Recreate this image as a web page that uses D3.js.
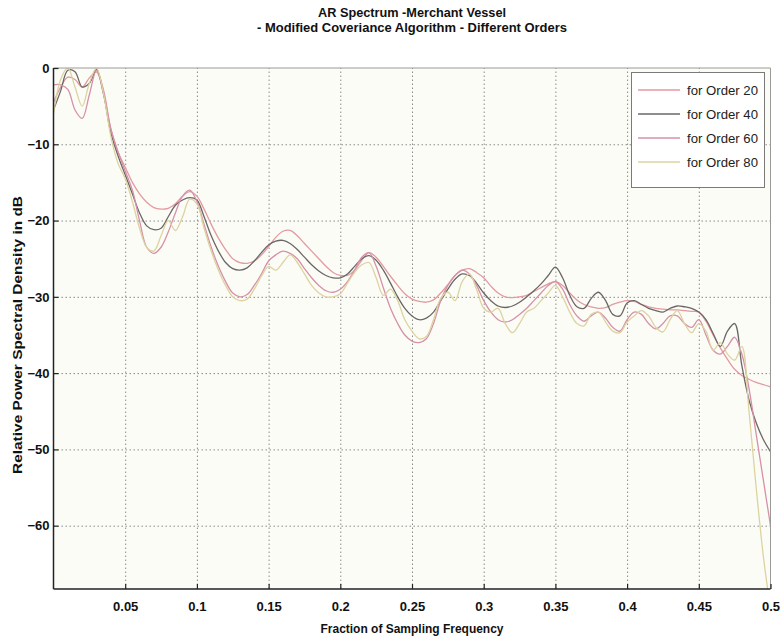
<!DOCTYPE html>
<html>
<head>
<meta charset="utf-8">
<script src="https://cdn.jsdelivr.net/npm/d3@7"></script>
<style>
  body { margin: 0; background: #ffffff; }
  text { font-family: "Liberation Sans Narrow", "Liberation Sans", "DejaVu Sans Condensed", sans-serif; }
</style>
</head>
<body>
<div id="my_plot"></div>
<script>
// Sizing
const svgWidth = 782,
  svgHeight = 638;
const plotLeft = 53.5,
  plotRight = 770.5,
  plotTop = 68,
  plotBottom = 589;

// Colouring
const colors = ["#e39aa0", "#6b6767", "#d690a8", "#dcd3a0"];
const textColor = "#111111";
const gridColor = "#8a8a8a";
const plotBackground = "#fcfcf7";

// Content
const titleLines = ["AR Spectrum -Merchant Vessel", "- Modified Coveriance Algorithm - Different Orders"];
const xAxisTitle = "Fraction of Sampling Frequency";
const yAxisTitle = "Relative Power Spectral Density in dB";
const seriesNames = ["for Order 20", "for Order 40", "for Order 60", "for Order 80"];
const xTicks = [0.05, 0.1, 0.15, 0.2, 0.25, 0.3, 0.35, 0.4, 0.45, 0.5];
const xTickLabels = ["0.05", "0.1", "0.15", "0.2", "0.25", "0.3", "0.35", "0.4", "0.45", "0.5"];
const yTicks = [0, -10, -20, -30, -40, -50, -60];

// frequency grid: 0 to 0.5 in steps of 0.005 (101 points)
const freqs = d3.range(101).map(i => i * 0.005);

// dB values, one per grid point
const order20Db = [
  -4.5, -2.5, -1.2, -1.5, -2.5, -1.3, -0.5, -3.5, -8, -11,
  -13, -15, -16.5, -17.6, -18.3, -18.5, -18.4, -17.8, -16.8, -16.2,
  -16.8, -18.5, -20.5, -22.3, -23.8, -25, -25.5, -25.6, -25.3, -24.5,
  -23.4, -22.2, -21.4, -21.3, -22, -23, -24, -25, -26, -26.8,
  -27.2, -27.2, -26.5, -25.2, -24.2, -24.8, -26, -27.3, -28.5, -29.6,
  -30.3, -30.6, -30.7, -30.4, -29.5, -28.4, -27.2, -26.5, -26.3, -26.8,
  -27.5, -28.6, -29.5, -30, -30.1, -30, -29.8, -29.3, -28.8, -28.3,
  -28, -28.5, -29.5, -30.4, -31, -31.3, -31.5, -31.4, -31, -30.7,
  -30.5, -30.6, -31, -31.3, -31.5, -31.6, -31.7, -31.7, -31.8, -31.9,
  -32, -33.2, -35, -36.7, -38.2, -39.5, -40.3, -40.8, -41.2, -41.5,
  -41.8
];
const order40Db = [
  -5.5, -3, -0.3, -0.5, -2.5, -2, -0.2, -3.5, -8.5, -11.5,
  -14, -16.5, -19, -20.7, -21.2, -21, -19.5, -18, -17.3, -17,
  -17.3, -19.5, -22, -24, -25.5, -26.3, -26.5, -26.2, -25.3, -24.2,
  -23.2, -22.7, -22.6, -23, -23.8, -24.8, -25.8, -26.6, -27.2, -27.5,
  -27.5, -27, -26, -25, -24.6, -25.2, -26.5, -28.2, -30, -31.5,
  -32.5, -33, -32.8, -32, -30.5, -29, -27.7, -27, -27.2, -28.2,
  -29.5, -30.5, -31.2, -31.4, -31.2, -30.7, -30, -29.2, -28.3, -27.2,
  -26.1, -27.5, -29.8, -31.3, -31.5, -30.2, -29.4, -30.5, -32.3, -32.5,
  -30.8, -30.5, -31, -31.5, -31.8, -32, -31.5, -31.2, -31.3, -31.5,
  -32, -33, -34.8, -36.5, -34.5, -33.5, -39, -43.5, -46.5, -48.7,
  -50.3
];
const order60Db = [
  -2.2, -2.2, -2.8, -5.5, -6.6, -3.5, -0.3, -3, -8, -11,
  -13.5, -16, -20, -23.5, -24.3, -23.5, -21.5, -19, -16.8, -16,
  -17.5, -20.5, -23.5, -26, -28, -29.5, -30, -29.7, -28.5, -27,
  -25.3, -24.5, -24, -24.3, -25, -26.3, -27.5, -28.5, -29.2, -29.4,
  -29, -28, -26.5, -24.8, -24.2, -26, -28.8, -31.5, -33.5, -35,
  -35.8, -36, -35.5, -33.5, -30.5, -28.5, -27.2, -26.5, -27, -28.5,
  -30.5, -32, -33, -33.3, -33, -32.3, -31.5, -30.5, -29.5, -28.5,
  -28, -29, -31, -32.5, -33.2, -32.5, -32, -32.8, -34, -34.5,
  -33, -32, -32.3, -33.5, -34.2, -33.5, -32.5, -32.5, -33.5, -34,
  -33, -35, -37, -37.5, -36.5, -35.3, -37.5, -42, -48, -54,
  -60
];
const order80Db = [
  -6, -1.5, 0, -2.5, -5, -2, 0, -3.5, -9, -12.5,
  -14.5, -17.5, -21, -23.5, -24, -22, -20, -21.3, -19.5, -17.2,
  -17.8, -21, -24, -26.5, -28.5, -30, -30.5, -30.3, -29, -27.3,
  -26, -26.5, -25.5, -24.5, -25.5, -27, -28.5, -29.5, -30, -30,
  -29.6, -28.2, -26.8, -25.8, -25.5, -27.5, -29.8, -29, -30.5, -33,
  -34.5, -35.5, -35.2, -33, -30.2, -29.4, -30.5, -28, -27, -29,
  -31.5, -32, -31.5, -33.5, -34.7, -33.5, -32, -31.5, -30.5, -29.5,
  -28.5, -30, -32, -33.5, -33.8, -32.3, -32, -33.3, -34.5, -34.7,
  -33.3, -32.5, -31.8, -32.5, -34, -34.6, -33, -31.8, -33.5, -34.7,
  -33.5, -34.5, -37, -36, -37.5, -38.3, -36.5, -45, -55, -64,
  -71
];
const seriesValues = [order20Db, order40Db, order60Db, order80Db];


/** Create SVG */
var svg = d3.select("#my_plot")
  .append("svg")
  .attr("width", svgWidth)
  .attr("height", svgHeight);

var x = d3.scaleLinear()
  .domain([0, 0.5])
  .range([plotLeft, plotRight]);

var y = d3.scaleLinear()
  .domain([-68.3, 0])
  .range([plotBottom, plotTop]);

// plot area
svg.append("rect")
  .attr("x", plotLeft)
  .attr("y", plotTop)
  .attr("width", plotRight - plotLeft)
  .attr("height", plotBottom - plotTop)
  .attr("fill", plotBackground);

svg.append("clipPath").attr("id", "clip")
  .append("rect")
  .attr("x", plotLeft)
  .attr("y", plotTop)
  .attr("width", plotRight - plotLeft)
  .attr("height", plotBottom - plotTop);

/** Grid */
svg.append("g").classed("grid", true)
  .attr("transform", "translate(0," + plotBottom + ")")
  .call(d3.axisBottom(x).tickValues(xTicks.slice(0, -1)).tickSize(-(plotBottom - plotTop)).tickFormat(""));
svg.append("g").classed("grid", true)
  .attr("transform", "translate(" + plotLeft + ",0)")
  .call(d3.axisLeft(y).tickValues(yTicks.slice(1)).tickSize(-(plotRight - plotLeft)).tickFormat(""));
svg.selectAll(".grid path").remove();
svg.selectAll(".grid line")
  .style("stroke", gridColor)
  .style("stroke-width", 1)
  .style("stroke-dasharray", "1.5,2.5");

/** Lines */
var line = d3.line()
  .x((d, i) => x(freqs[i]))
  .y(d => y(d))
  .curve(d3.curveCatmullRom.alpha(0.5));

svg.append("g")
  .attr("clip-path", "url(#clip)")
  .selectAll("path")
  .data(seriesValues)
  .enter()
  .append("path")
  .attr("d", line)
  .attr("fill", "none")
  .attr("stroke", (d, i) => colors[i])
  .attr("stroke-width", 1.3)
  .attr("stroke-linejoin", "round");

/** Frame */
svg.append("line")
  .attr("x1", plotLeft).attr("x2", plotRight)
  .attr("y1", plotTop).attr("y2", plotTop)
  .attr("stroke", "#9a9a9a");
svg.append("line")
  .attr("x1", plotRight).attr("x2", plotRight)
  .attr("y1", plotTop).attr("y2", plotBottom)
  .attr("stroke", "#9a9a9a");

/** X-Axis */
var xAxis = svg.append("g").classed("axis", true)
  .attr("transform", "translate(0," + plotBottom + ")")
  .call(d3.axisBottom(x).tickValues(xTicks).tickSize(-5).tickPadding(13)
    .tickFormat((d, i) => xTickLabels[i]));
xAxis.select("path").attr("d", "M" + plotLeft + ",0H" + plotRight);

/** Y-Axis */
var yAxis = svg.append("g").classed("axis", true)
  .attr("transform", "translate(" + plotLeft + ",0)")
  .call(d3.axisLeft(y).tickValues(yTicks).tickSize(-5).tickPadding(4));
yAxis.select("path").attr("d", "M0," + plotTop + "V" + plotBottom);

//styling
svg.selectAll(".axis path").style("stroke", "#222").style("stroke-width", 1.5);
svg.selectAll(".axis line").style("stroke", "#222").style("stroke-width", 1.2);
svg.selectAll(".axis text")
  .style("fill", textColor)
  .style("font-size", "13px")
  .style("font-weight", "bold");

/** Titles */
svg.selectAll(".title")
  .data(titleLines)
  .enter()
  .append("text")
  .classed("title", true)
  .attr("x", 412)
  .attr("y", (d, i) => 17 + i * 15)
  .attr("text-anchor", "middle")
  .attr("textLength", (d, i) => i === 0 ? 188 : 310)
  .attr("lengthAdjust", "spacingAndGlyphs")
  .style("font-size", "12px")
  .style("font-weight", "bold")
  .attr("fill", textColor)
  .text(d => d);

svg.append("text")
  .attr("x", 412)
  .attr("y", 633)
  .attr("text-anchor", "middle")
  .attr("textLength", 183)
  .attr("lengthAdjust", "spacingAndGlyphs")
  .style("font-size", "12px")
  .style("font-weight", "bold")
  .attr("fill", textColor)
  .text(xAxisTitle);

svg.append("text")
  .attr("transform", "translate(22,335) rotate(-90)")
  .attr("text-anchor", "middle")
  .attr("textLength", 278)
  .attr("lengthAdjust", "spacingAndGlyphs")
  .style("font-size", "13px")
  .style("font-weight", "bold")
  .attr("fill", textColor)
  .text(yAxisTitle);

/** Legend */
var legend = svg.append("g").classed("legend", true);
legend.append("rect")
  .attr("x", 631.5)
  .attr("y", 72.5)
  .attr("width", 133)
  .attr("height", 115)
  .attr("fill", "#ffffff")
  .attr("stroke", "#7a7a7a");

var entry = legend.selectAll(".entry")
  .data(seriesNames)
  .enter().append("g")
  .classed("entry", true)
  .attr("transform", (d, i) => "translate(0," + (90 + i * 24) + ")");

entry.append("line")
  .attr("x1", 638).attr("x2", 680)
  .attr("y1", 0).attr("y2", 0)
  .attr("stroke", (d, i) => colors[i])
  .attr("stroke-width", 1.3);

entry.append("text")
  .attr("x", 687)
  .attr("y", 4.5)
  .attr("textLength", 71)
  .attr("lengthAdjust", "spacingAndGlyphs")
  .style("font-size", "13px")
  .attr("fill", "#222")
  .text(d => d);
</script>
</body>
</html>
